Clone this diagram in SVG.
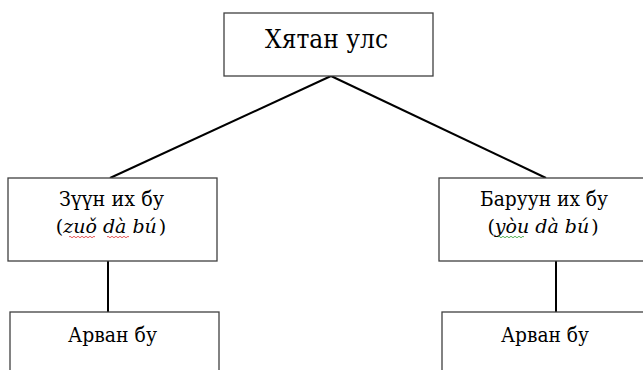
<svg xmlns="http://www.w3.org/2000/svg" width="643" height="370" viewBox="0 0 643 370">
<style>
.box{fill:#fff;stroke:#404040;stroke-width:1.3}
.ln{stroke:#000;stroke-width:2;fill:none}
.t{font-family:'DejaVu Serif',serif;fill:#000;text-anchor:middle}
.wr{fill:none;stroke:#e03030;stroke-width:0.8}
.wg{fill:none;stroke:#30a030;stroke-width:0.8}
</style>
<rect width="643" height="370" fill="#fff"/>
<g id="connectors">
<path class="ln" d="M331,76 L110,178"/>
<path class="ln" d="M331,76 L546,178"/>
<path class="ln" d="M108,261 L108,312"/>
<path class="ln" d="M556,261 L556,312"/>
</g>
<g id="china">
<rect class="box" x="224" y="13" width="209" height="63"/>
<text class="t" x="326.5" y="48" font-size="26" textLength="123" lengthAdjust="spacingAndGlyphs">Хятан улс</text>
</g>
<g id="left">
<rect class="box" x="8" y="178" width="209" height="83"/>
<text class="t" x="111.5" y="206" font-size="20.5" textLength="105" lengthAdjust="spacingAndGlyphs">Зүүн их бу</text>
<text class="t" x="111" y="233" font-size="19" font-style="italic"><tspan font-style="normal">(</tspan>zuǒ dà bú<tspan font-style="normal" dx="2">)</tspan></text>
<path class="wr" d="M69,237 q1,-1.5 2,0 t2,0 t2,0 t2,0 t2,0 t2,0 t2,0 t2,0 t2,0 t2,0 t2,0 t2,0 t2,0"/>
<path class="wr" d="M107,237 q1,-1.5 2,0 t2,0 t2,0 t2,0 t2,0 t2,0 t2,0 t2,0 t2,0 t2,0 t2,0"/>
</g>
<g id="right">
<rect class="box" x="439" y="178" width="210" height="83"/>
<text class="t" x="544" y="206" font-size="20.5" textLength="128" lengthAdjust="spacingAndGlyphs">Баруун их бу</text>
<text class="t" x="543" y="233" font-size="19" font-style="italic"><tspan font-style="normal">(</tspan>yòu dà bú<tspan font-style="normal" dx="2">)</tspan></text>
<path class="wg" d="M498,237 q1,-1.5 2,0 t2,0 t2,0 t2,0 t2,0 t2,0 t2,0 t2,0 t2,0 t2,0 t2,0 t2,0 t2,0"/>
</g>
<g id="left-arvan">
<rect class="box" x="10" y="312" width="209" height="70"/>
<text class="t" x="112.5" y="342" font-size="20.5" textLength="89" lengthAdjust="spacingAndGlyphs">Арван бу</text>
</g>
<g id="right-arvan">
<rect class="box" x="442" y="312" width="206" height="70"/>
<text class="t" x="545" y="342" font-size="20.5" textLength="88" lengthAdjust="spacingAndGlyphs">Арван бу</text>
</g>
</svg>
